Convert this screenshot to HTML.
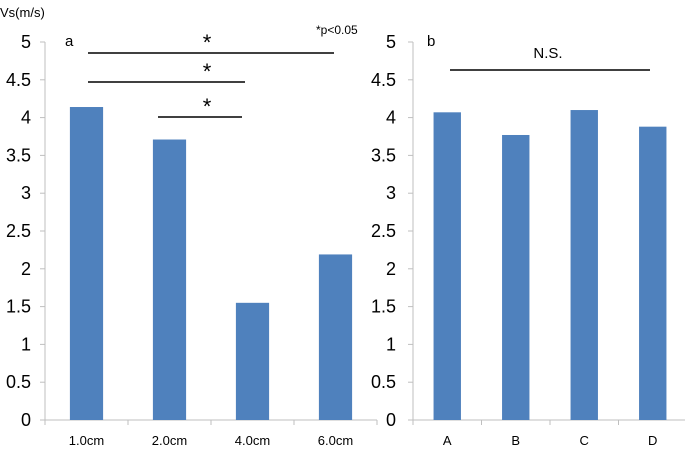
<!DOCTYPE html>
<html><head><meta charset="utf-8"><style>
body{margin:0;background:#fff}
svg{display:block;font-family:"Liberation Sans",sans-serif}
</style></head><body>
<svg id="c" width="685" height="452">
<text x="0" y="17" font-size="13" fill="#000">Vs(m/s)</text>
<text x="316" y="34" font-size="12">*p&lt;0.05</text>
<text x="65" y="46" font-size="15">a</text>
<text x="427" y="46" font-size="15">b</text>
</svg>
<script>
const catsA=["1.0cm","2.0cm","4.0cm","6.0cm"];
const valsA=[4.14,3.71,1.55,2.19];
const catsB=["A","B","C","D"];
const valsB=[4.07,3.77,4.10,3.88];
const ticks=[0,0.5,1,1.5,2,2.5,3,3.5,4,4.5,5];
const tickLabels=["0","0.5","1","1.5","2","2.5","3","3.5","4","4.5","5"];
const svg=document.getElementById('c');
const NS="http://www.w3.org/2000/svg";
function mk(t,a,p){const e=document.createElementNS(NS,t);for(const k in a)e.setAttribute(k,a[k]);(p||svg).appendChild(e);return e;}
const y0=420,y5=42;
function yS(v){return y0-(v/5)*(y0-y5);}
function panel(x0,w,cats,vals,prefix,labelX){
  const g=mk('g',{});
  
  
  const n=cats.length,cw=w/n;
  const ax=mk('line',{x1:x0,y1:y5,x2:x0,y2:y0,stroke:'#bfbfbf','stroke-width':1},g);
  
  
  const xa=mk('line',{x1:x0,y1:y0,x2:x0+w,y2:y0,stroke:'#bfbfbf','stroke-width':1},g);
  
  
  ticks.forEach((t,i)=>{
    const y=yS(t);
    mk('line',{x1:x0-5,y1:y,x2:x0,y2:y,stroke:'#bfbfbf'},g);
    const tx=mk('text',{x:labelX,y:y+6,'text-anchor':'end','font-size':18},g);
    tx.textContent=tickLabels[i];
    
    
  });
  for(let i=0;i<=n;i++)mk('line',{x1:x0+i*cw,y1:y0,x2:x0+i*cw,y2:y0+5,stroke:'#bfbfbf'},g);
  cats.forEach((c,i)=>{
    const cx=x0+(i+0.5)*cw,bw=cw*0.4;
    const r=mk('rect',{x:cx-bw/2,y:yS(vals[i]),width:bw,height:y0-yS(vals[i]),fill:'#4f81bd'},g);
    
    
    const t=mk('text',{x:cx,y:y0+25,'text-anchor':'middle','font-size':13},g);
    t.textContent=c;
    
    
  });
}
panel(45,332,catsA,valsA,'a',31);
panel(413,274,catsB,valsB,'b',396);
function sig(x1,x2,y,txt,tx,ty,fs){
  const l=mk('line',{x1:x1,y1:y,x2:x2,y2:y,stroke:'#000','stroke-width':1.5});
  
  
  const t=mk('text',{x:tx,y:ty,'text-anchor':'middle','font-size':fs});
  t.textContent=txt;
  
  
}
sig(88,334,53,'*',207,50,22);
sig(88,245,82,'*',207,79,22);
sig(158,242,117,'*',207,114,22);
sig(450,650,70,'N.S.',548,58,15);
</script>
</body></html>
